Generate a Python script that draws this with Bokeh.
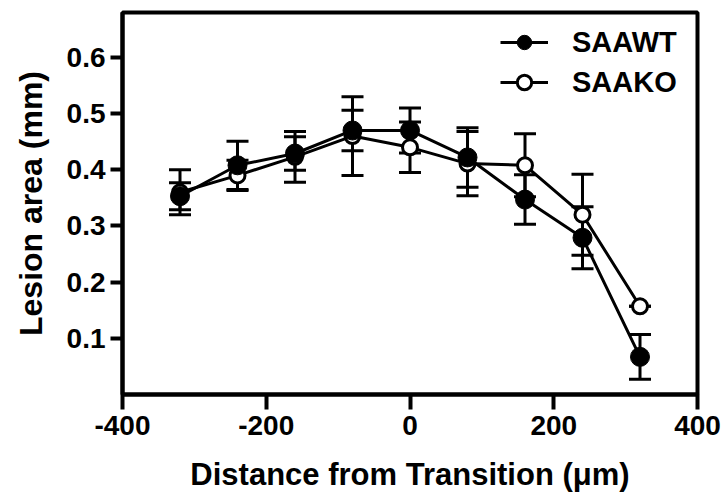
from bokeh.plotting import figure
from bokeh.models import (ColumnDataSource, Whisker, TeeHead, FixedTicker, Range1d,
                          Legend, LegendItem)
from bokeh.embed import file_html
from bokeh.resources import INLINE

# ---- data ----
distance = [-320, -240, -160, -80, 0, 80, 160, 240, 320]
saawt = [0.353, 0.408, 0.429, 0.470, 0.470, 0.422, 0.347, 0.279, 0.067]
saawt_err = [0.024, 0.043, 0.030, 0.036, 0.040, 0.053, 0.044, 0.055, 0.040]
saako = [0.360, 0.390, 0.423, 0.460, 0.440, 0.411, 0.408, 0.320, 0.157]
saako_err = [0.040, 0.027, 0.045, 0.070, 0.045, 0.057, 0.056, 0.072, 0.000]
x_ticks = [-400, -200, 0, 200, 400]
x_tick_labels = ["-400", "-200", "0", "200", "400"]
y_ticks = [0.1, 0.2, 0.3, 0.4, 0.5, 0.6]

FONT = "Liberation Sans"

p = figure(width=722, height=494, output_backend="svg", toolbar_location=None,
           x_range=Range1d(-400, 400), y_range=Range1d(0, 0.68),
           min_border_left=122, min_border_right=25, min_border_top=12,
           min_border_bottom=99)
p.xgrid.visible = False
p.ygrid.visible = False
p.outline_line_color = "black"
p.outline_line_width = 4
p.background_fill_color = "white"
p.border_fill_color = "white"

def src(y, e):
    return ColumnDataSource(dict(x=distance, y=y,
                                 lo=[a - b for a, b in zip(y, e)],
                                 hi=[a + b for a, b in zip(y, e)]))

ko_src = src(saako, saako_err)
wt_src = src(saawt, saawt_err)

for s in (ko_src, wt_src):
    w = Whisker(source=s, base="x", lower="lo", upper="hi", level="underlay",
                line_color="black", line_width=3,
                upper_head=TeeHead(size=22, line_width=3, line_color="black"),
                lower_head=TeeHead(size=22, line_width=3, line_color="black"))
    p.add_layout(w)

ko_line = p.line("x", "y", source=ko_src, line_color="black", line_width=3)
ko_pts = p.scatter("x", "y", source=ko_src, size=15, marker="circle",
                   fill_color="white", line_color="black", line_width=3)
wt_line = p.line("x", "y", source=wt_src, line_color="black", line_width=3)
wt_pts = p.scatter("x", "y", source=wt_src, size=19, marker="circle",
                   fill_color="black", line_color="black", line_width=1)

legend = Legend(items=[LegendItem(label="SAAWT", renderers=[wt_line, wt_pts]),
                       LegendItem(label="SAAKO", renderers=[ko_line, ko_pts])],
                location=(378, 294), padding=0, margin=0, spacing=4,
                glyph_width=48, glyph_height=36, label_height=36,
                label_standoff=24, border_line_color=None,
                background_fill_alpha=0,
                label_text_font=FONT, label_text_font_style="bold",
                label_text_font_size="29px", label_text_color="black")
p.add_layout(legend)

# axes
p.xaxis.ticker = FixedTicker(ticks=x_ticks)
p.xaxis.major_label_overrides = dict(zip(x_ticks, x_tick_labels))
p.yaxis.ticker = FixedTicker(ticks=y_ticks)
for ax in (p.xaxis[0], p.yaxis[0]):
    ax.axis_line_width = 4
    ax.axis_line_color = "black"
    ax.major_tick_line_width = 4
    ax.major_tick_line_color = "black"
    ax.major_tick_in = 0
    ax.minor_tick_line_color = None
    ax.major_label_text_font = FONT
    ax.major_label_text_font_style = "bold"
    ax.major_label_text_font_size = "28px"
    ax.major_label_text_color = "black"
    ax.axis_label_text_font = FONT
    ax.axis_label_text_font_style = "bold"
    ax.axis_label_text_color = "black"

p.xaxis.axis_label_text_font_size = "31px"
p.yaxis.axis_label_text_font_size = "32px"
p.xaxis.major_tick_out = 15
p.yaxis.major_tick_out = 12
p.xaxis.major_label_standoff = 6
p.yaxis.major_label_standoff = 5
p.xaxis.axis_label = "Distance from Transition (\u03bcm)"
p.yaxis.axis_label = "Lesion area (mm)"
p.xaxis.axis_label_standoff = 19
p.yaxis.axis_label_standoff = 15

open("out.html", "w").write(file_html(p, INLINE))
